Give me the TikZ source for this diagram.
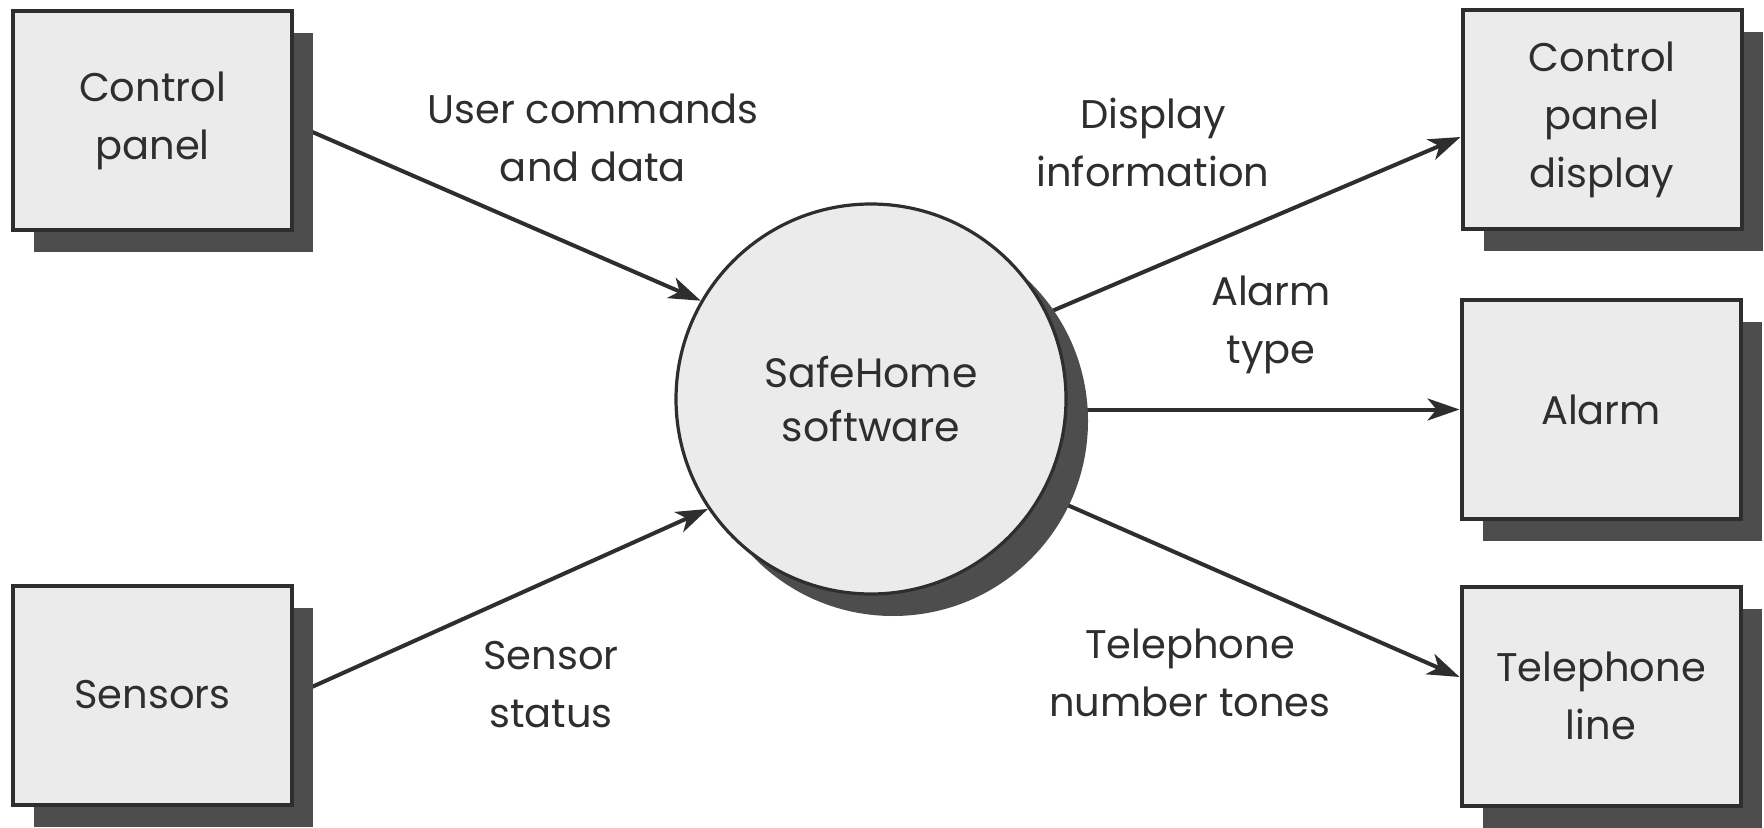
\documentclass[tikz,border=0pt]{standalone}
\usepackage{fontspec}
\setmainfont{Poppins}
\usetikzlibrary{shadows,arrows.meta,backgrounds}
\definecolor{boxfill}{HTML}{EBEBEB}
\definecolor{shade}{HTML}{4D4D4D}
\definecolor{ink}{HTML}{2E2E2E}
\tikzset{
  ext/.style={draw=ink, line width=2pt, fill=boxfill, minimum width=139.5pt, minimum height=109.5pt,
    align=center, text=ink, font=\fontsize{20}{29}\selectfont, inner sep=0pt,
    general shadow={shadow xshift=10.5pt, shadow yshift=-11pt, fill=shade, draw=none}},
  proc/.style={circle, draw=ink, line width=1.6pt, fill=boxfill, minimum size=195pt, inner sep=0pt,
    align=center, text=ink, font=\fontsize{20.5}{27}\selectfont,
    general shadow={shadow xshift=11pt, shadow yshift=-11pt, fill=shade, draw=none}},
  flow/.style={draw=ink, line width=2pt, -{Stealth[length=16pt, width=11pt, inset=4.5pt]}},
  lbl/.style={align=center, text=ink, font=\fontsize{20}{29}\selectfont, inner sep=0pt}
}
\begin{document}
\begin{tikzpicture}[x=0.5pt, y=-0.5pt]
\useasboundingbox (0,0) rectangle (1764,828);
\node[ext] (cp) at (152.5,121) {Control\\panel};
\node[ext] (sn) at (152.5,695) {Sensors};
\node[ext] (cpd) at (1602,120) {Control\\panel\\display};
\node[ext] (al) at (1601,409.5) {Alarm};
\node[ext] (tl) at (1601,696) {Telephone\\line};
\node[proc] (sw) at (871,399) {SafeHome\\software};
\begin{scope}[on background layer]
\fill[white] (0,0) rectangle (1764,828);
\draw[flow] ([yshift=-1.5pt]cp.east) -- (sw.150);
\draw[flow] (sn.east) -- (sw.214);
\draw[flow] (sw.26) -- ([yshift=-8.5pt]cpd.west);
\draw[flow] (sw.east |- al.west) -- (al.west);
\draw[flow] (sw.-29) -- ([yshift=9.5pt]tl.west);
\end{scope}
\node[lbl] (l1) at (593,138) {User commands\\and data};
\node[lbl] (l2) at (1153,142) {Display\\information};
\node[lbl] (l3) at (1271,325) {Alarm\\type};
\node[lbl] (l4) at (551,685) {Sensor\\status};
\node[lbl] (l5) at (1190,673) {Telephone\\number tones};
\end{tikzpicture}
\end{document}
